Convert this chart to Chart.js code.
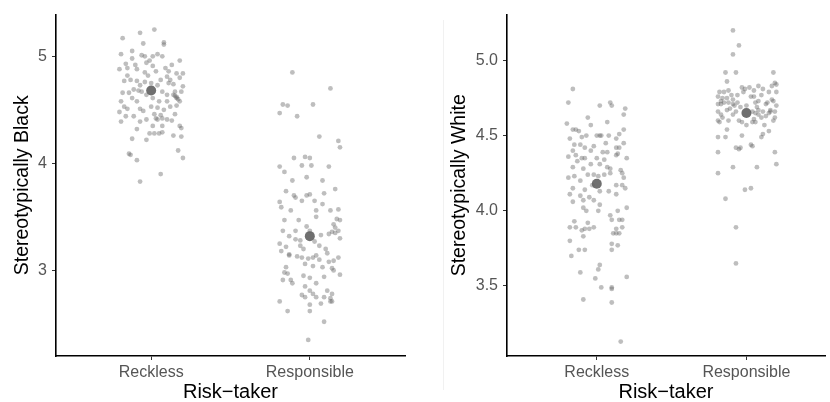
<!DOCTYPE html>
<html>
<head>
<meta charset="utf-8">
<script src="https://cdn.jsdelivr.net/npm/chart.js@4.4.1/dist/chart.umd.min.js"></script>
<style>
  body { margin: 0; background: #fff; }
  #wrap { position: relative; width: 830px; height: 402px; overflow: hidden; }
  #left { position: absolute; left: 0; top: 0; }
  #right { position: absolute; left: 425px; top: 0; }
  #sep { position: absolute; left: 443px; top: 20px; width: 1px; height: 370px; background: #f1f1f1; }
</style>
</head>
<body>
<div id="wrap">
  <div id="sep"></div>
  <canvas id="left" width="415" height="402"></canvas>
  <canvas id="right" width="405" height="402"></canvas>
</div>
<script>
// categories on the x axis
const categorias = ["Reckless", "Responsible"];

// [jitter, valor] for each participant
const blackReckless = [
  [0.02,5.25],[-0.07,5.22],[-0.18,5.17],[-0.05,5.12],[0.08,5.13],[0.08,5.11],[-0.19,5.02],[-0.12,5.05],
  [-0.06,5.01],[-0.04,5.0],[-0.01,4.96],[-0.03,4.94],[0.01,5.0],[0.04,5.02],[0.07,5.0],[-0.12,4.98],
  [-0.16,4.93],[-0.2,4.88],[-0.15,4.89],[-0.1,4.92],[-0.09,4.88],[-0.04,4.85],[0.01,4.91],[0.03,4.86],
  [0.09,4.89],[0.11,4.86],[0.13,4.92],[0.18,4.96],[0.16,4.84],[0.1,4.81],[0.12,4.78],[-0.17,4.77],
  [-0.13,4.78],[-0.09,4.77],[-0.04,4.76],[0.0,4.75],[0.06,4.78],[0.2,4.84],[0.14,4.74],[-0.18,4.66],
  [-0.14,4.66],[-0.11,4.69],[-0.08,4.68],[-0.06,4.67],[-0.03,4.64],[0.07,4.67],[0.1,4.64],[0.14,4.64],
  [0.16,4.62],[0.17,4.6],[0.19,4.67],[-0.19,4.58],[-0.17,4.53],[-0.12,4.61],[-0.09,4.58],[0.01,4.61],
  [0.05,4.58],[0.1,4.58],[0.12,4.53],[0.16,4.54],[0.18,4.58],[-0.2,4.48],[-0.15,4.51],[-0.07,4.51],
  [-0.05,4.49],[0.02,4.46],[0.06,4.45],[-0.11,4.44],[-0.03,4.41],[0.03,4.42],[0.04,4.41],[0.07,4.42],
  [0.1,4.41],[0.13,4.4],[0.18,4.35],[0.19,4.33],[-0.19,4.39],[-0.09,4.32],[0.01,4.35],[0.07,4.35],
  [-0.01,4.28],[0.02,4.28],[0.05,4.28],[0.07,4.29],[0.14,4.26],[0.19,4.25],[-0.12,4.23],[-0.03,4.22],
  [0.17,4.12],[-0.14,4.09],[-0.13,4.08],[-0.09,4.03],[0.2,4.05],[0.06,3.9],[-0.07,3.83],[0.15,4.67],
  [0.18,4.8],[0.11,4.75],[0.2,4.72],[-0.15,4.82],[-0.02,4.82],[0.04,4.73],[-0.07,4.73],[0.0,4.53],
  [0.08,4.5],[0.04,4.52],[0.15,4.46],[-0.16,4.44],[-0.07,4.39],[0.15,4.63],[0.16,4.61]
];
const blackResponsible = [
  [-0.11,4.85],[0.13,4.7],[-0.17,4.55],[-0.14,4.54],[-0.19,4.47],[-0.08,4.44],[0.02,4.55],[0.06,4.25],
  [0.18,4.21],[0.19,4.15],[-0.1,4.05],[-0.03,4.06],[0.0,4.05],[-0.05,3.98],[0.01,3.98],[0.12,3.97],
  [-0.19,3.97],[-0.16,3.92],[-0.02,3.87],[-0.11,3.84],[0.08,3.84],[0.16,3.76],[-0.15,3.74],[-0.1,3.7],
  [-0.09,3.68],[-0.02,3.7],[0.0,3.71],[-0.05,3.65],[0.03,3.65],[0.09,3.72],[0.08,3.62],[0.18,3.57],
  [-0.19,3.64],[-0.18,3.59],[-0.12,3.56],[0.04,3.56],[0.13,3.56],[-0.16,3.47],[-0.07,3.47],[0.04,3.5],
  [0.17,3.48],[0.19,3.47],[0.15,3.43],[0.16,3.4],[0.14,3.36],[-0.02,3.41],[0.0,3.37],[-0.17,3.37],
  [-0.09,3.37],[0.18,3.37],[-0.13,3.32],[-0.09,3.29],[-0.06,3.28],[0.03,3.27],[0.07,3.33],[0.12,3.34],
  [0.19,3.3],[-0.19,3.25],[-0.15,3.22],[-0.06,3.23],[-0.04,3.2],[0.06,3.23],[0.1,3.2],[-0.18,3.18],
  [-0.13,3.14],[-0.08,3.13],[-0.05,3.12],[-0.01,3.11],[0.02,3.12],[0.04,3.14],[0.06,3.1],[0.11,3.16],
  [0.18,3.12],[0.15,3.09],[0.12,3.08],[-0.03,3.06],[0.02,3.04],[0.08,3.03],[-0.15,3.03],[0.14,3.02],
  [0.15,3.0],[0.19,2.96],[-0.16,2.98],[-0.14,2.97],[-0.12,2.91],[-0.11,2.88],[-0.17,2.91],[-0.04,2.95],
  [0.0,2.93],[0.09,2.94],[0.04,2.88],[-0.03,2.85],[0.0,2.81],[0.02,2.78],[0.11,2.81],[-0.05,2.77],
  [-0.03,2.75],[0.04,2.75],[0.09,2.75],[0.13,2.74],[0.14,2.78],[0.13,2.71],[0.14,2.71],[-0.19,2.71],
  [0.0,2.68],[0.07,2.69],[-0.14,2.62],[0.0,2.62],[0.09,2.52],[-0.01,2.35],[-0.13,3.15],[0.16,3.35]
];
const whiteReckless = [
  [-0.16,4.81],[-0.19,4.72],[0.02,4.7],[0.09,4.72],[0.1,4.7],[0.19,4.68],[0.18,4.64],[-0.06,4.62],
  [-0.2,4.58],[0.07,4.59],[-0.04,4.57],[-0.16,4.54],[-0.14,4.54],[-0.12,4.53],[0.18,4.54],[0.0,4.5],
  [0.02,4.5],[0.03,4.5],[-0.07,4.5],[0.08,4.5],[0.15,4.51],[-0.18,4.48],[-0.1,4.49],[0.13,4.48],
  [0.18,4.45],[-0.15,4.44],[-0.11,4.44],[-0.08,4.42],[-0.02,4.43],[0.06,4.45],[0.15,4.42],[0.13,4.42],
  [-0.16,4.4],[-0.04,4.4],[0.04,4.39],[0.07,4.39],[0.13,4.37],[0.14,4.38],[-0.14,4.37],[-0.19,4.36],
  [-0.1,4.35],[-0.08,4.35],[0.0,4.35],[0.2,4.35],[0.05,4.34],[-0.13,4.33],[-0.04,4.31],[0.02,4.31],
  [0.07,4.29],[0.09,4.28],[0.16,4.27],[0.17,4.25],[-0.16,4.29],[-0.09,4.28],[-0.19,4.22],[-0.15,4.23],
  [-0.06,4.24],[-0.02,4.24],[0.01,4.23],[0.05,4.24],[0.09,4.25],[0.18,4.22],[-0.11,4.2],[-0.03,4.17],
  [0.13,4.17],[0.17,4.17],[0.19,4.15],[-0.16,4.15],[-0.08,4.14],[0.02,4.13],[0.08,4.13],[-0.18,4.11],
  [-0.11,4.1],[-0.05,4.09],[-0.02,4.07],[0.13,4.11],[-0.16,4.06],[-0.09,4.07],[0.02,4.04],[0.01,4.0],
  [0.2,4.02],[-0.09,4.02],[-0.07,4.0],[0.14,4.0],[0.09,3.97],[0.1,3.94],[0.15,3.94],[0.17,3.94],
  [-0.15,3.93],[-0.06,3.92],[-0.18,3.89],[-0.14,3.89],[-0.1,3.87],[-0.08,3.88],[-0.05,3.88],[-0.02,3.89],
  [0.13,3.88],[0.15,3.85],[0.17,3.89],[0.11,3.85],[0.13,3.85],[-0.09,3.83],[-0.18,3.8],[0.1,3.78],
  [0.14,3.77],[0.1,3.74],[-0.17,3.7],[-0.12,3.74],[-0.08,3.74],[0.02,3.64],[0.01,3.61],[-0.11,3.59],
  [0.2,3.56],[-0.01,3.55],[0.03,3.49],[0.1,3.49],[0.1,3.48],[-0.09,3.41],[0.1,3.39],[0.16,3.13]
];
const whiteResponsible = [
  [-0.09,5.2],[-0.05,5.1],[-0.09,5.04],[-0.14,4.92],[-0.07,4.92],[0.18,4.92],[-0.13,4.86],[0.19,4.85],
  [0.17,4.83],[0.2,4.84],[-0.18,4.79],[-0.15,4.79],[-0.12,4.8],[-0.03,4.82],[-0.01,4.81],[-0.02,4.79],
  [0.02,4.82],[0.08,4.83],[0.11,4.81],[0.05,4.8],[0.15,4.79],[0.2,4.79],[-0.19,4.76],[-0.16,4.75],
  [-0.13,4.75],[-0.09,4.74],[-0.06,4.77],[0.03,4.76],[0.05,4.76],[0.1,4.77],[0.17,4.74],[0.18,4.73],
  [-0.17,4.73],[-0.15,4.72],[-0.12,4.72],[-0.06,4.72],[0.08,4.73],[0.14,4.72],[-0.19,4.71],[-0.17,4.71],
  [-0.09,4.71],[-0.08,4.7],[0.13,4.71],[0.2,4.7],[-0.11,4.68],[-0.04,4.69],[0.07,4.69],[0.08,4.67],
  [0.16,4.67],[-0.19,4.66],[-0.13,4.67],[-0.07,4.66],[0.04,4.66],[0.11,4.66],[0.19,4.66],[-0.17,4.64],
  [-0.09,4.64],[0.06,4.65],[0.08,4.64],[0.15,4.65],[0.16,4.66],[-0.19,4.6],[-0.18,4.59],[-0.12,4.6],
  [-0.05,4.6],[-0.03,4.59],[0.05,4.61],[0.06,4.59],[0.1,4.62],[0.18,4.6],[0.19,4.62],[0.0,4.57],
  [0.04,4.59],[-0.13,4.54],[-0.03,4.5],[0.11,4.51],[0.15,4.53],[-0.19,4.49],[-0.14,4.49],[0.1,4.49],
  [-0.07,4.42],[-0.05,4.41],[0.03,4.44],[0.04,4.43],[-0.19,4.39],[-0.04,4.42],[0.19,4.39],[-0.09,4.29],
  [0.07,4.29],[0.2,4.31],[-0.19,4.25],[-0.01,4.14],[0.03,4.15],[-0.14,4.08],[-0.07,3.89],[-0.07,3.65],
  [0.12,4.57],[-0.16,4.62],[0.0,4.7],[0.13,4.63],[-0.1,4.77],[0.06,4.72]
];

// group means (large dot)
const mediasBlack = [4.68, 3.32];
const mediasWhite = [4.18, 4.65];

// tick labels on the y axes
const ticksBlack = [3, 4, 5];
const ticksWhite = [3.5, 4.0, 4.5, 5.0];

const fonte = "'Liberation Sans', Arial, Helvetica, sans-serif";
const corPonto = "rgba(100,100,100,0.42)";
const corMedia = "rgba(95,95,95,0.9)";

function pontos(grupos) {
    const out = [];
    grupos.forEach((grupo, i) => {
        grupo.forEach(p => out.push({ x: i + 1 + p[0], y: p[1] }));
    });
    return out;
}

function criarPainel(id, cfg) {
    const ctx = document.getElementById(id).getContext("2d");
    return new Chart(ctx, {
        type: "scatter",
        data: {
            datasets: [
                {
                    label: "media",
                    data: cfg.medias.map((m, i) => ({ x: i + 1, y: m })),
                    backgroundColor: corMedia,
                    borderWidth: 0,
                    pointRadius: 5,
                },
                {
                    label: "participantes",
                    data: pontos(cfg.grupos),
                    backgroundColor: corPonto,
                    borderWidth: 0,
                    pointRadius: 2.4,
                },
            ],
        },
        options: {
            responsive: false,
            animation: false,
            layout: { padding: { top: 13, right: cfg.padRight, left: 0, bottom: 0 } },
            plugins: { legend: { display: false }, tooltip: { enabled: false } },
            scales: {
                x: {
                    type: "linear",
                    min: 0.4,
                    max: cfg.xMax,
                    afterBuildTicks: s => { s.ticks = categorias.map((c, i) => ({ value: i + 1 })); },
                    afterFit: s => { s.height = 46; },
                    ticks: {
                        callback: (v) => categorias[Math.round(v) - 1],
                        color: "#555",
                        font: { family: fonte, size: 16 },
                        padding: 3,
                        maxRotation: 0,
                    },
                    grid: { drawOnChartArea: false, drawTicks: true, tickLength: 4, color: "#333" },
                    border: { display: true, color: "#000", width: 1.6 },
                    title: {
                        display: true,
                        text: "Risk\u2212taker",
                        color: "#000",
                        font: { family: fonte, size: 20, lineHeight: 1 },
                        padding: { top: 0, bottom: 0 },
                    },
                },
                y: {
                    min: cfg.yMin,
                    max: cfg.yMax,
                    afterBuildTicks: s => { s.ticks = cfg.ticks.map(v => ({ value: v })); },
                    afterFit: s => { s.width = cfg.yWidth; },
                    ticks: {
                        callback: cfg.fmt,
                        color: "#555",
                        font: { family: fonte, size: 16 },
                        padding: 5,
                    },
                    grid: { drawOnChartArea: false, drawTicks: true, tickLength: 4, color: "#333" },
                    border: { display: true, color: "#000", width: 1.6 },
                    title: {
                        display: true,
                        text: cfg.titulo,
                        color: "#000",
                        font: { family: fonte, size: 19.5, lineHeight: 1 },
                        padding: { top: cfg.titlePad, bottom: 0 },
                    },
                },
            },
        },
    });
}

criarPainel("left", {
    grupos: [blackReckless, blackResponsible],
    medias: mediasBlack,
    ticks: ticksBlack,
    fmt: v => String(v),
    titulo: "Stereotypically Black",
    yMin: 2.2, yMax: 5.39,
    xMax: 2.6,
    yWidth: 56,
    padRight: 10,
    titlePad: 13,
});

criarPainel("right", {
    grupos: [whiteReckless, whiteResponsible],
    medias: mediasWhite,
    ticks: ticksWhite,
    fmt: v => v.toFixed(1),
    titulo: "Stereotypically White",
    yMin: 3.034, yMax: 5.305,
    xMax: 2.525,
    yWidth: 82,
    padRight: 0,
    titlePad: 25,
});
</script>
</body>
</html>
